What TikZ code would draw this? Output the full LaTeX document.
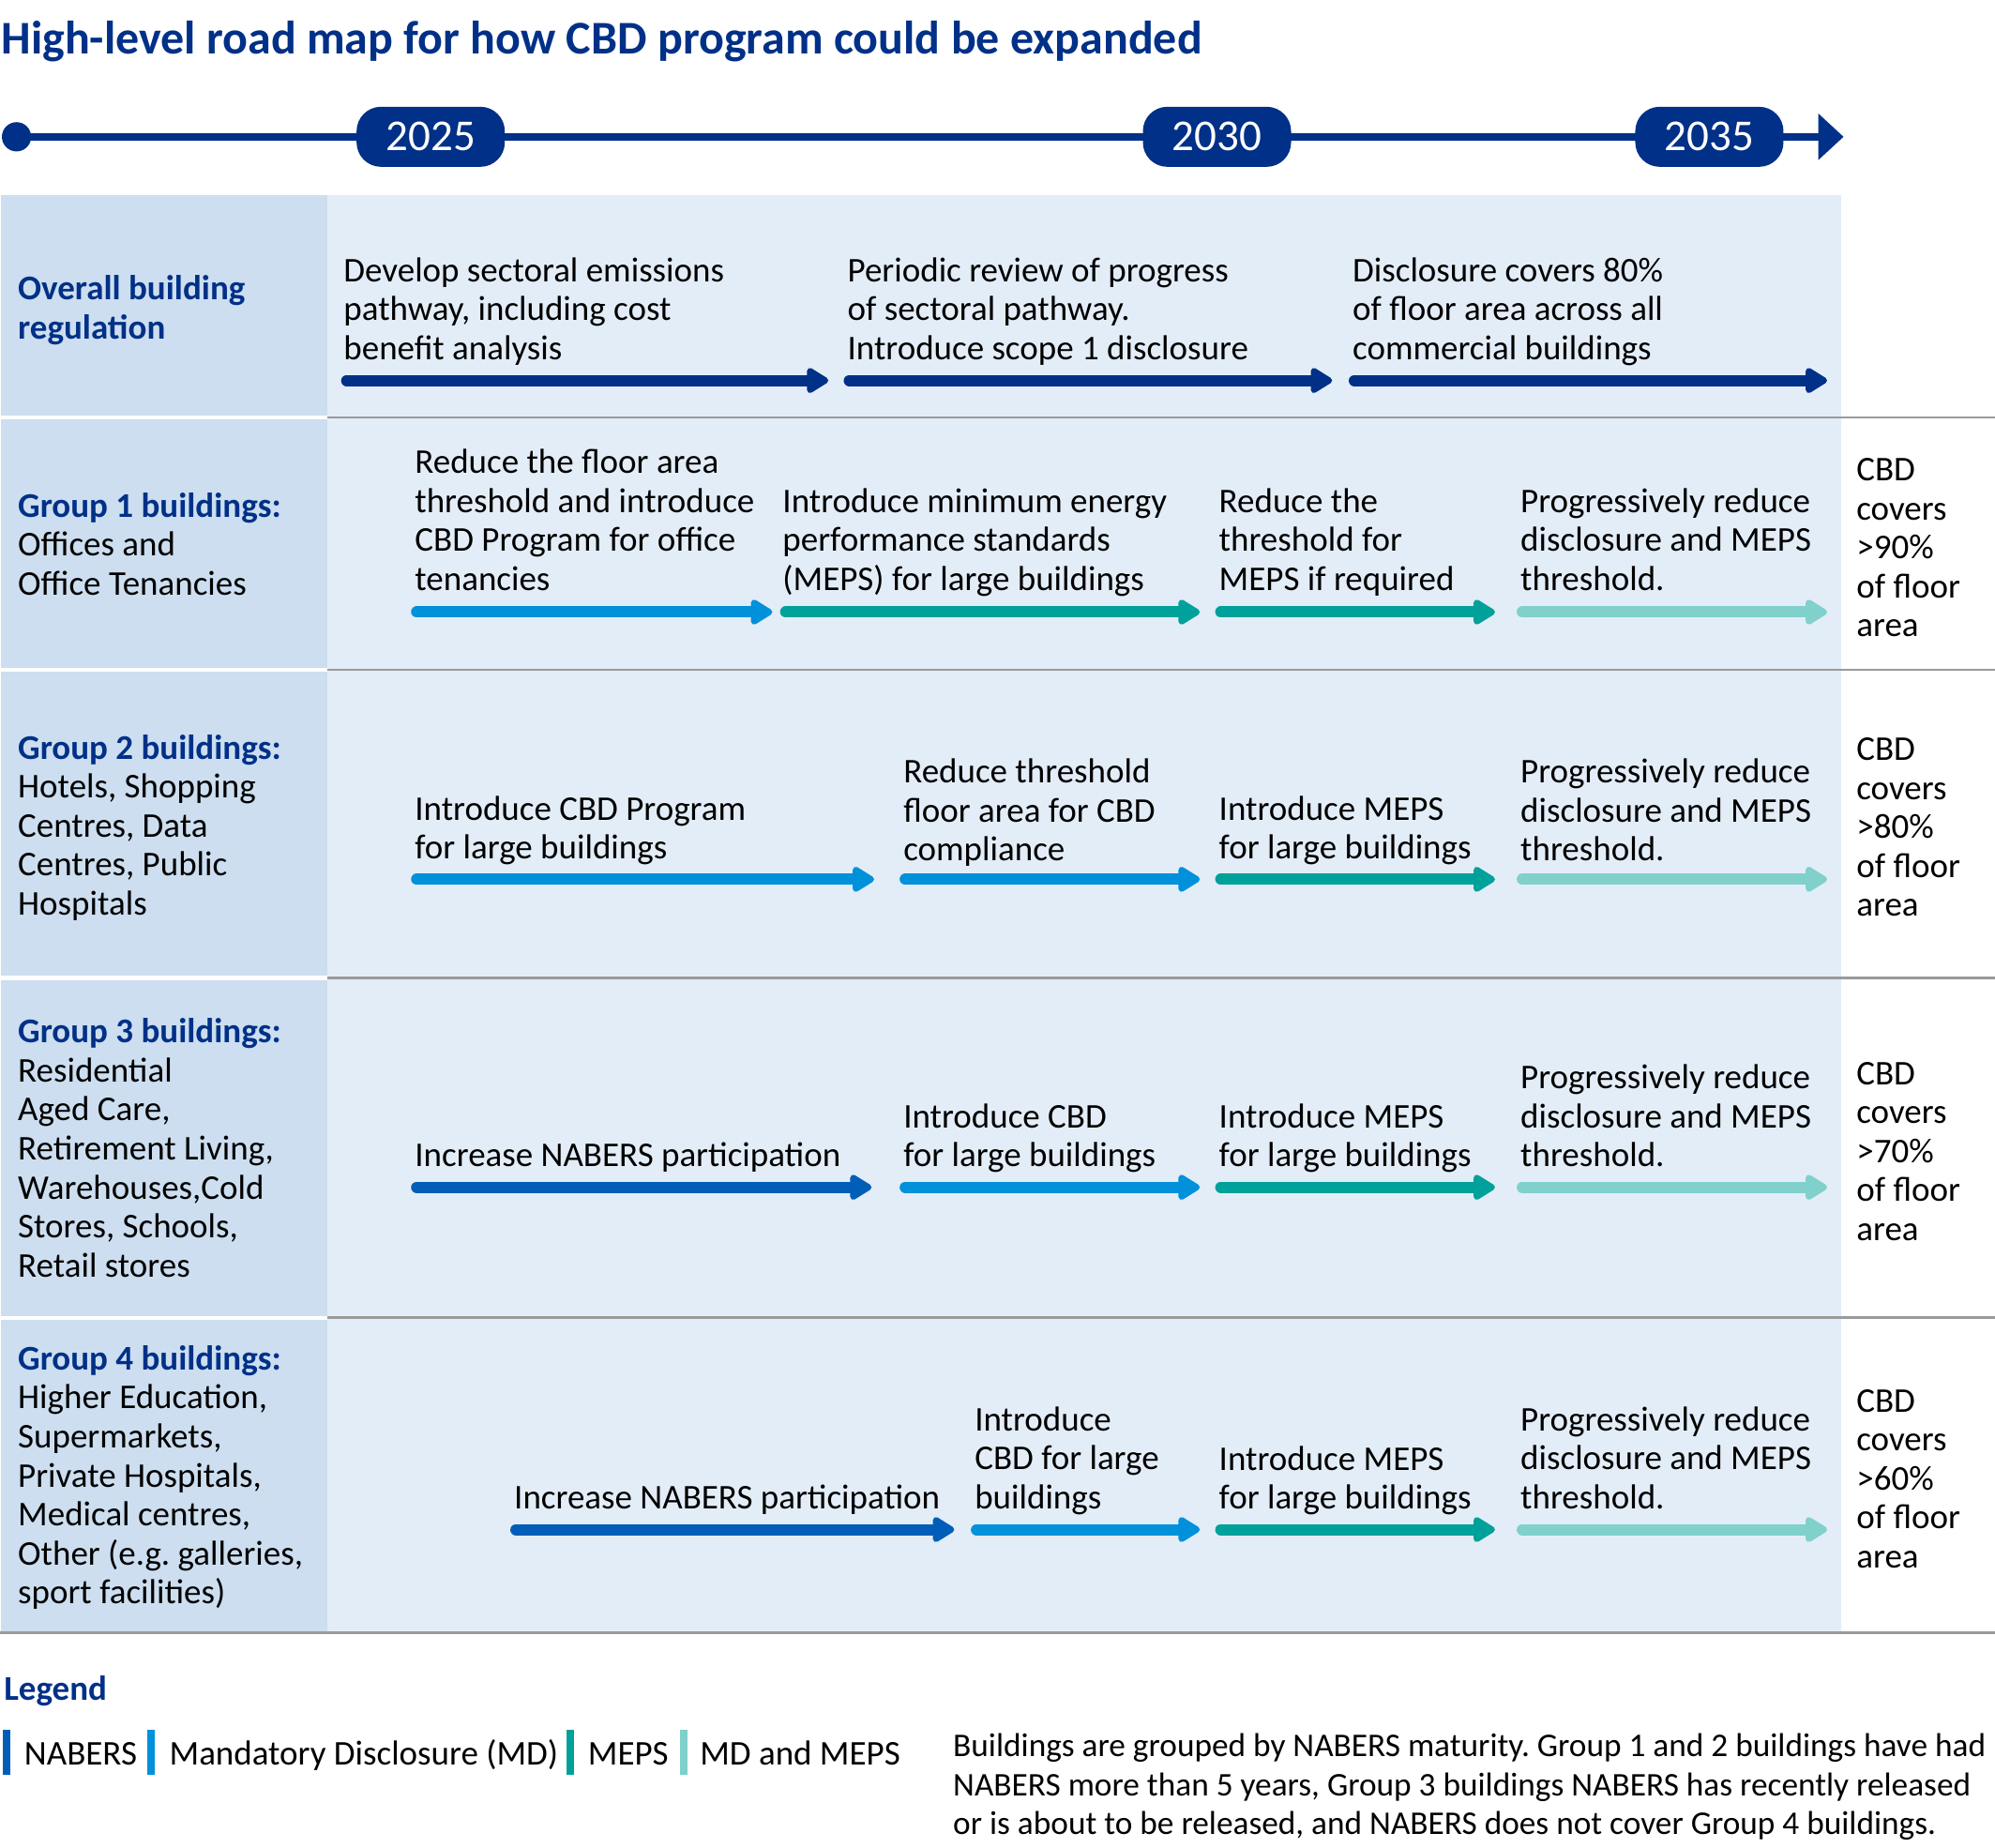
\documentclass[tikz,border=0pt]{standalone}
\usepackage{fontspec}
\setmainfont{Carlito}
\usetikzlibrary{arrows.meta}
\definecolor{navy}{HTML}{003087}
\definecolor{nabers}{HTML}{005EB8}
\definecolor{md}{HTML}{0091DA}
\definecolor{meps}{HTML}{00A19A}
\definecolor{mdmeps}{HTML}{80D0CC}
\definecolor{leftcol}{HTML}{CCDEEF}
\definecolor{content}{HTML}{E3EDF7}
\definecolor{sepgray}{HTML}{9A9A9A}
\frenchspacing
\tikzset{
  txt/.style={font=\fontsize{37}{41.6}\selectfont, anchor=base west, align=left, inner sep=0pt, text=black, yshift=-4.7pt},
  hdr/.style={font=\fontsize{37}{41.6}\selectfont\bfseries, anchor=base west, align=left, inner sep=0pt, text=navy, yshift=-4.7pt},
  arr/.style={line width=12pt, line cap=round, -{Triangle[length=26pt,width=30pt,round]}},
  pill/.style={fill=navy, rounded corners=26pt, minimum width=158pt, minimum height=64pt, inner sep=0pt,
    text=white, font=\fontsize{47}{52}\selectfont, text height=29.7pt, text depth=0pt},
  sep/.style={draw=sepgray, line width=2.5pt},
  legbar/.style={line width=8pt}
}
\begin{document}
\begin{tikzpicture}[x=1.3565pt,y=-1.3565pt]
\useasboundingbox[fill=white] (0,0) rectangle (1568,1452);

% title
\node[font=\fontsize{50}{56}\selectfont\bfseries, text=navy, anchor=base west, inner sep=0pt] (title) at (1,42.5) {High-level road map for how CBD program could be expanded};

% timeline
\coordinate (tlstart) at (13,107.5);
\coordinate (tlend) at (1449,107.5);
\draw[navy, line width=8pt, -{Triangle[length=27pt,width=48pt]}] (tlstart) -- (tlend);
\fill[navy] (tlstart) circle (11.5);
\node[pill] (y2025) at (338.5,107.5) {2025};
\node[pill] (y2030) at (956.5,107.5) {2030};
\node[pill] (y2035) at (1343.5,107.5) {2035};

% table background
\fill[content] (257,153) rectangle (1447,1282);
\fill[leftcol] (1,153) rectangle (257,326.5);
\fill[leftcol] (1,329.5) rectangle (257,525);
\fill[leftcol] (1,528) rectangle (257,767);
\fill[leftcol] (1,770) rectangle (257,1034);
\fill[leftcol] (1,1037) rectangle (257,1282);
\draw[sep] (257,328) -- (1568,328);
\draw[sep] (257,526.5) -- (1568,526.5);
\draw[sep] (257,768.5) -- (1568,768.5);
\draw[sep] (257,1035.5) -- (1568,1035.5);
\draw[sep] (0,1283) -- (1568,1283);

% row 0: overall (anchors at last-line baselines)
\node[hdr] (r0) at (14,262.7) {Overall building\\regulation};
\node[txt] (r0a) at (270,279.3) {Develop sectoral emissions\\pathway, including cost\\benefit analysis};
\node[txt] (r0b) at (666,279.3) {Periodic review of progress\\of sectoral pathway.\\Introduce scope 1 disclosure};
\node[txt] (r0c) at (1063,279.3) {Disclosure covers 80\%\\of floor area across all\\commercial buildings};
\draw[arr, navy] (272.5,299) -- (651,299);
\draw[arr, navy] (667.5,299) -- (1047,299);
\draw[arr, navy] (1064.5,299) -- (1436,299);

% row 1: group 1
\node[txt] (g1) at (14,464.3) {{\bfseries\color{navy}Group 1 buildings:}\\Offices and\\Office Tenancies};
\node[txt] (g1a) at (326,460.5) {Reduce the floor area\\threshold and introduce\\CBD Program for office\\tenancies};
\node[txt] (g1b) at (615,460.5) {Introduce minimum energy\\performance standards\\(MEPS) for large buildings};
\node[txt] (g1c) at (958,460.5) {Reduce the\\threshold for\\MEPS if required};
\node[txt] (g1d) at (1195,460.5) {Progressively reduce\\disclosure and MEPS\\threshold.};
\node[txt] (g1e) at (1459,497) {CBD\\covers\\>90\%\\of floor\\area};
\draw[arr, md] (327.5,481) -- (607,481);
\draw[arr, meps] (617.5,481) -- (943,481);
\draw[arr, meps] (959.5,481) -- (1175,481);
\draw[arr, mdmeps] (1196.5,481) -- (1436,481);

% row 2: group 2
\node[txt] (g2) at (14,715.7) {{\bfseries\color{navy}Group 2 buildings:}\\Hotels, Shopping\\Centres, Data\\Centres, Public\\Hospitals};
\node[txt] (g2a) at (326,671.5) {Introduce CBD Program\\for large buildings};
\node[txt] (g2b) at (710,673) {Reduce threshold\\floor area for CBD\\compliance};
\node[txt] (g2c) at (958,671.5) {Introduce MEPS\\for large buildings};
\node[txt] (g2d) at (1195,673) {Progressively reduce\\disclosure and MEPS\\threshold.};
\node[txt] (g2e) at (1459,716.7) {CBD\\covers\\>80\%\\of floor\\area};
\draw[arr, md] (327.5,691) -- (687,691);
\draw[arr, md] (711.5,691) -- (943,691);
\draw[arr, meps] (959.5,691) -- (1175,691);
\draw[arr, mdmeps] (1196.5,691) -- (1436,691);

% row 3: group 3
\node[txt] (g3) at (14,1000) {{\bfseries\color{navy}Group 3 buildings:}\\Residential\\Aged Care,\\Retirement Living,\\Warehouses,Cold\\Stores, Schools,\\Retail stores};
\node[txt] (g3a) at (326,913) {Increase NABERS participation};
\node[txt] (g3b) at (710,913.5) {Introduce CBD\\for large buildings};
\node[txt] (g3c) at (958,913.5) {Introduce MEPS\\for large buildings};
\node[txt] (g3d) at (1195,913.5) {Progressively reduce\\disclosure and MEPS\\threshold.};
\node[txt] (g3e) at (1459,971.5) {CBD\\covers\\>70\%\\of floor\\area};
\draw[arr, nabers] (327.5,933) -- (685,933);
\draw[arr, md] (711.5,933) -- (943,933);
\draw[arr, meps] (959.5,933) -- (1175,933);
\draw[arr, mdmeps] (1196.5,933) -- (1436,933);

% row 4: group 4
\node[txt] (g4) at (14,1257) {{\bfseries\color{navy}Group 4 buildings:}\\Higher Education,\\Supermarkets,\\Private Hospitals,\\Medical centres,\\Other (e.g. galleries,\\sport facilities)};
\node[txt] (g4a) at (404,1182) {Increase NABERS participation};
\node[txt] (g4b) at (766,1182.3) {Introduce\\CBD for large\\buildings};
\node[txt] (g4c) at (958,1182.5) {Introduce MEPS\\for large buildings};
\node[txt] (g4d) at (1195,1182.3) {Progressively reduce\\disclosure and MEPS\\threshold.};
\node[txt] (g4e) at (1459,1228.7) {CBD\\covers\\>60\%\\of floor\\area};
\draw[arr, nabers] (405.5,1202) -- (750,1202);
\draw[arr, md] (767.5,1202) -- (943,1202);
\draw[arr, meps] (959.5,1202) -- (1175,1202);
\draw[arr, mdmeps] (1196.5,1202) -- (1436,1202);

% legend
\node[hdr] (legend) at (3,1332.5) {Legend};
\draw[legbar, nabers] (5.5,1359) -- (5.5,1395);
\node[txt] (l1) at (19,1383.5) {NABERS};
\draw[legbar, md] (118.5,1359) -- (118.5,1395);
\node[txt] (l2) at (133,1383.5) {Mandatory Disclosure (MD)};
\draw[legbar, meps] (448,1359) -- (448,1395);
\node[txt] (l3) at (462,1383.5) {MEPS};
\draw[legbar, mdmeps] (537.5,1359) -- (537.5,1395);
\node[txt] (l4) at (550,1383.5) {MD and MEPS};
\node[txt, font=\fontsize{35.3}{41.6}\selectfont] (note) at (749,1438.3) {Buildings are grouped by NABERS maturity. Group 1 and 2 buildings have had\\NABERS more than 5 years, Group 3 buildings NABERS has recently released\\or is about to be released, and NABERS does not cover Group 4 buildings.};
\end{tikzpicture}
\end{document}
